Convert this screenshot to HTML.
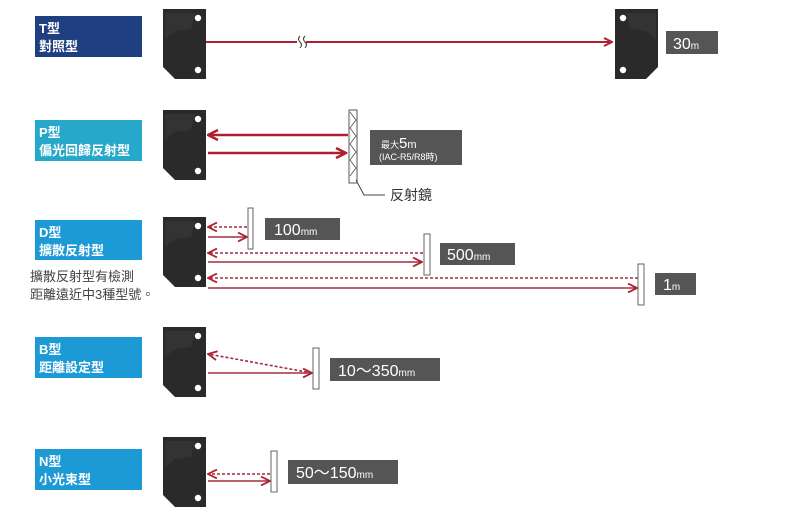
<!DOCTYPE html>
<html><head><meta charset="utf-8"><style>
body{margin:0;background:#fff}
svg{display:block;font-family:"Liberation Sans","Noto Sans CJK TC",sans-serif}
.lb{fill:#fff;font-size:13px;font-weight:bold}
.bx{fill:#555}
.bt{fill:#fff;font-size:16px}
.sm{font-size:10px}
</style></head><body>
<svg width="800" height="520" viewBox="0 0 800 520">
<defs>
<g id="sen">
<polygon points="0,0 43,0 43,70 12,70 0,58" fill="#2a2a2a"/>
<polygon points="2,4 32,4 28,20 12,22 2,30" fill="#333"/>
<circle cx="35" cy="9" r="3.2" fill="#fff"/>
<circle cx="35" cy="61" r="3.2" fill="#fff"/>
</g>
<marker id="ar" viewBox="0 0 10 10" refX="9" refY="5" markerWidth="7" markerHeight="7" orient="auto-start-reverse">
<path d="M1,1 L9,5 L1,9" fill="none" stroke="#b02030" stroke-width="1.6"/>
</marker>
<marker id="ab" viewBox="0 0 10 10" refX="9" refY="5" markerWidth="5" markerHeight="5" orient="auto-start-reverse">
<path d="M1,1 L9,5 L1,9" fill="none" stroke="#b02030" stroke-width="2"/>
</marker>
</defs>

<!-- T -->
<rect x="35" y="16" width="107" height="41" fill="#1f3f80"/>
<text class="lb" x="39" y="33">T型</text><text class="lb" x="39" y="51">對照型</text>
<use href="#sen" x="163" y="9"/>
<g transform="translate(658,9) scale(-1,1)"><use href="#sen"/></g>
<line x1="206" y1="42" x2="297" y2="42" stroke="#b02030" stroke-width="2"/>
<line x1="306" y1="42" x2="612" y2="42" stroke="#b02030" stroke-width="2" marker-end="url(#ab)"/>
<path d="M300,36 q-3,3 0,6 q3,3 0,6 M305,36 q-3,3 0,6 q3,3 0,6" fill="none" stroke="#333" stroke-width="1"/>
<rect class="bx" x="666" y="31" width="52" height="23"/>
<text class="bt" x="673" y="49">30<tspan class="sm">m</tspan></text>

<!-- P -->
<rect x="35" y="120" width="107" height="41" fill="#25a8c9"/>
<text class="lb" x="39" y="137">P型</text><text class="lb" x="39" y="155">偏光回歸反射型</text>
<use href="#sen" x="163" y="110"/>
<line x1="348" y1="135" x2="208" y2="135" stroke="#b02030" stroke-width="2.5" marker-end="url(#ab)"/>
<line x1="208" y1="153" x2="346" y2="153" stroke="#b02030" stroke-width="2.5" marker-end="url(#ab)"/>
<rect x="349" y="110" width="8" height="73" fill="#fff" stroke="#555" stroke-width="1"/>
<path d="M350,112 l6,8 l-6,8 l6,8 l-6,8 l6,8 l-6,8 l6,8 l-6,8" fill="none" stroke="#555" stroke-width="0.8"/>
<path d="M356,180 L364,195 L385,195" fill="none" stroke="#444" stroke-width="1"/>
<text x="390" y="200" font-size="14" fill="#333">反射鏡</text>
<rect class="bx" x="370" y="130" width="92" height="35"/>
<text x="381" y="148" font-size="9" fill="#fff">最大<tspan font-size="15">5</tspan><tspan font-size="11">m</tspan></text>
<text x="379" y="160" font-size="9" fill="#fff">(IAC-R5/R8時)</text>

<!-- D -->
<rect x="35" y="220" width="107" height="40" fill="#1b9ad6"/>
<text class="lb" x="39" y="237">D型</text><text class="lb" x="39" y="255">擴散反射型</text>
<text x="30" y="281" font-size="13" fill="#444">擴散反射型有檢測</text>
<text x="30" y="299" font-size="13" fill="#444">距離遠近中3種型號。</text>
<use href="#sen" x="163" y="217"/>
<g stroke="#a03040" stroke-width="1.6" fill="none">
<line x1="247" y1="227" x2="208" y2="227" stroke-dasharray="3,2" marker-end="url(#ar)"/>
<line x1="208" y1="237" x2="247" y2="237" marker-end="url(#ar)"/>
<line x1="423" y1="253" x2="208" y2="253" stroke-dasharray="3,2" marker-end="url(#ar)"/>
<line x1="208" y1="262" x2="422" y2="262" marker-end="url(#ar)"/>
<line x1="638" y1="278" x2="208" y2="278" stroke-dasharray="3,2" marker-end="url(#ar)"/>
<line x1="208" y1="288" x2="637" y2="288" marker-end="url(#ar)"/>
</g>
<g fill="#fff" stroke="#666" stroke-width="1">
<rect x="248" y="208" width="5" height="41"/>
<rect x="424" y="234" width="6" height="41"/>
<rect x="638" y="264" width="6" height="41"/>
</g>
<rect class="bx" x="265" y="218" width="75" height="22"/>
<text class="bt" x="274" y="235">100<tspan class="sm">mm</tspan></text>
<rect class="bx" x="440" y="243" width="75" height="22"/>
<text class="bt" x="447" y="260">500<tspan class="sm">mm</tspan></text>
<rect class="bx" x="655" y="273" width="41" height="22"/>
<text class="bt" x="663" y="290">1<tspan class="sm">m</tspan></text>

<!-- B -->
<rect x="35" y="337" width="107" height="41" fill="#1b9ad6"/>
<text class="lb" x="39" y="354">B型</text><text class="lb" x="39" y="372">距離設定型</text>
<use href="#sen" x="163" y="327"/>
<g stroke="#a03040" stroke-width="1.6" fill="none">
<line x1="312" y1="373" x2="208" y2="354" stroke-dasharray="3,2" marker-end="url(#ar)"/>
<line x1="208" y1="373" x2="312" y2="373" marker-end="url(#ar)"/>
</g>
<rect x="313" y="348" width="6" height="41" fill="#fff" stroke="#666"/>
<rect class="bx" x="330" y="358" width="110" height="23"/>
<text class="bt" x="338" y="376">10～350<tspan class="sm">mm</tspan></text>

<!-- N -->
<rect x="35" y="449" width="107" height="41" fill="#1b9ad6"/>
<text class="lb" x="39" y="466">N型</text><text class="lb" x="39" y="484">小光束型</text>
<use href="#sen" x="163" y="437"/>
<g stroke="#a03040" stroke-width="1.6" fill="none">
<line x1="270" y1="474" x2="208" y2="474" stroke-dasharray="3,2" marker-end="url(#ar)"/>
<line x1="208" y1="481" x2="270" y2="481" marker-end="url(#ar)"/>
</g>
<rect x="271" y="451" width="6" height="41" fill="#fff" stroke="#666"/>
<rect class="bx" x="288" y="460" width="110" height="24"/>
<text class="bt" x="296" y="478">50～150<tspan class="sm">mm</tspan></text>
</svg>
</body></html>
